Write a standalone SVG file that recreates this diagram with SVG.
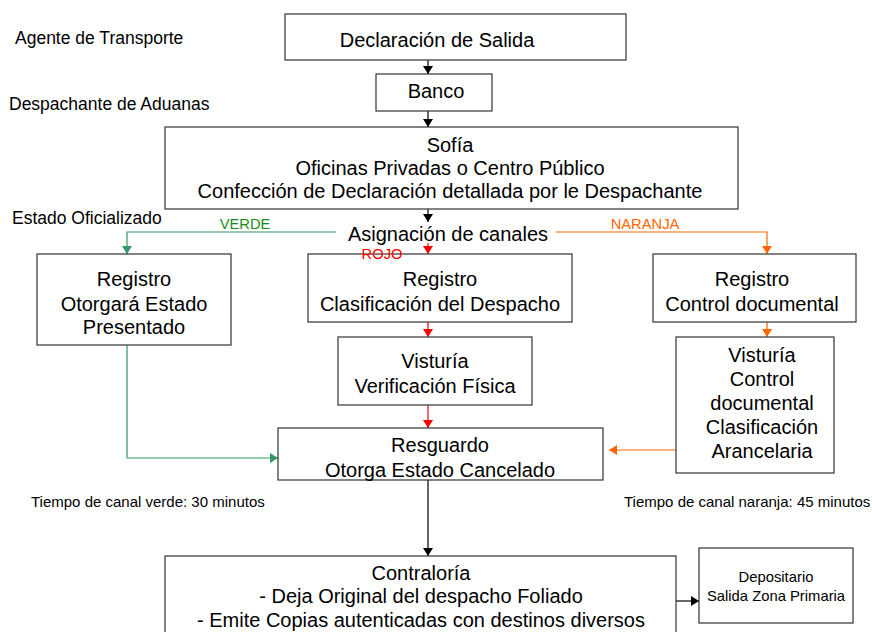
<svg xmlns="http://www.w3.org/2000/svg" width="872" height="632" viewBox="0 0 872 632">
<defs>
<marker id="ak" markerWidth="8" markerHeight="10" refX="8" refY="5" orient="auto" markerUnits="userSpaceOnUse"><path d="M0,0 L8,5 L0,10 Z" fill="#000"/></marker>
<marker id="ar" markerWidth="8" markerHeight="10" refX="8" refY="5" orient="auto" markerUnits="userSpaceOnUse"><path d="M0,0 L8,5 L0,10 Z" fill="#ff0000"/></marker>
<marker id="ag" markerWidth="8" markerHeight="10" refX="8" refY="5" orient="auto" markerUnits="userSpaceOnUse"><path d="M0,0 L8,5 L0,10 Z" fill="#339966"/></marker>
<marker id="ao" markerWidth="8" markerHeight="10" refX="8" refY="5" orient="auto" markerUnits="userSpaceOnUse"><path d="M0,0 L8,5 L0,10 Z" fill="#ff6600"/></marker>
</defs>
<style>
text{font-family:"Liberation Sans",Arial,sans-serif;fill:#000}
.box{fill:#fff;stroke:#333;stroke-width:1.2}
.t{font-size:20px;text-anchor:middle}
.lbl{font-size:17.5px}
.s{font-size:15px}
.c{font-size:14.8px;text-anchor:middle}
.k{fill:none;stroke:#000;stroke-width:1.2}
.r{fill:none;stroke:#ff0000;stroke-width:1.2}
.g{fill:none;stroke:#339966;stroke-width:1.2}
.o{fill:none;stroke:#ff6600;stroke-width:1.2}
.cl{font-size:14.7px;text-anchor:middle}
</style>
<rect width="872" height="632" fill="#fff"/>
<g id="labels">
<text class="lbl" x="15" y="44">Agente de Transporte</text>
<text class="lbl" x="9" y="110">Despachante de Aduanas</text>
<text class="lbl" x="12" y="224">Estado Oficializado</text>
<text class="s" x="31" y="507">Tiempo de canal verde: 30 minutos</text>
<text class="s" x="624" y="507">Tiempo de canal naranja: 45 minutos</text>
</g>
<g id="connectors">
<line class="k" x1="428" y1="60" x2="428" y2="74" marker-end="url(#ak)"/>
<line class="k" x1="428" y1="111" x2="428" y2="127" marker-end="url(#ak)"/>
<line class="k" x1="428" y1="209" x2="428" y2="222" marker-end="url(#ak)"/>
<polyline class="g" points="336,232 127,232 127,254" marker-end="url(#ag)"/>
<line class="r" x1="428" y1="243" x2="428" y2="254" marker-end="url(#ar)"/>
<polyline class="o" points="556,232 767,232 767,254" marker-end="url(#ao)"/>
<line class="r" x1="428" y1="322" x2="428" y2="337" marker-end="url(#ar)"/>
<line class="r" x1="428" y1="405" x2="428" y2="428" marker-end="url(#ar)"/>
<line class="o" x1="767" y1="322" x2="767" y2="337" marker-end="url(#ao)"/>
<polyline class="g" points="127,345 127,458 278,458" marker-end="url(#ag)"/>
<line class="o" x1="676" y1="450" x2="609" y2="450" marker-end="url(#ao)"/>
<line class="k" x1="428" y1="480" x2="428" y2="556" marker-end="url(#ak)"/>
<line class="k" x1="676" y1="601" x2="699" y2="601" marker-end="url(#ak)"/>
</g>
<g id="declaracion">
<rect class="box" x="285" y="14" width="341" height="46"/>
<text class="t" x="437" y="47">Declaración de Salida</text>
</g>
<g id="banco">
<rect class="box" x="376" y="74" width="116" height="37"/>
<text class="t" x="436" y="98">Banco</text>
</g>
<g id="sofia">
<rect class="box" x="165" y="127" width="573" height="82"/>
<text class="t" x="450" y="152">Sofía</text>
<text class="t" x="450" y="175">Oficinas Privadas o Centro Público</text>
<text class="t" x="450" y="198">Confección de Declaración detallada por le Despachante</text>
</g>
<g id="asignacion">
<text class="t" x="448" y="241">Asignación de canales</text>
</g>
<g id="registro-verde">
<rect class="box" x="37" y="254" width="194" height="91"/>
<text class="t" x="134" y="286">Registro</text>
<text class="t" x="134" y="311">Otorgará Estado</text>
<text class="t" x="134" y="334">Presentado</text>
</g>
<g id="registro-rojo">
<rect class="box" x="308" y="254" width="264" height="68"/>
<text class="t" x="440" y="286">Registro</text>
<text class="t" x="440" y="311">Clasificación del Despacho</text>
</g>
<g id="registro-naranja">
<rect class="box" x="653" y="254" width="203" height="68"/>
<text class="t" x="752" y="286">Registro</text>
<text class="t" x="752" y="311">Control documental</text>
</g>
<g id="visturia-rojo">
<rect class="box" x="338" y="337" width="194" height="68"/>
<text class="t" x="435" y="368">Visturía</text>
<text class="t" x="435" y="393">Verificación Física</text>
</g>
<g id="visturia-naranja">
<rect class="box" x="676" y="337" width="158" height="136"/>
<text class="t" x="762" y="362">Visturía</text>
<text class="t" x="762" y="386">Control</text>
<text class="t" x="762" y="410">documental</text>
<text class="t" x="762" y="434">Clasificación</text>
<text class="t" x="762" y="458">Arancelaria</text>
</g>
<g id="resguardo">
<rect class="box" x="278" y="428" width="325" height="52"/>
<text class="t" x="440" y="452">Resguardo</text>
<text class="t" x="440" y="477">Otorga Estado Cancelado</text>
</g>
<g id="contraloria">
<rect class="box" x="165" y="556" width="511" height="90"/>
<text class="t" x="421" y="580">Contraloría</text>
<text class="t" x="421" y="603">- Deja Original del despacho Foliado</text>
<text class="t" x="421" y="627">- Emite Copias autenticadas con destinos diversos</text>
</g>
<g id="depositario">
<rect class="box" x="699" y="548" width="154" height="75"/>
<text class="c" x="776" y="582">Depositario</text>
<text class="c" x="776" y="601">Salida Zona Primaria</text>
</g>
<g id="channel-labels">
<text class="cl" x="245" y="229" style="fill:#1a8c1a">VERDE</text>
<text class="cl" x="382" y="259" style="fill:#ff0000">ROJO</text>
<text class="cl" x="645" y="229" style="fill:#ff6600">NARANJA</text>
</g>
</svg>
